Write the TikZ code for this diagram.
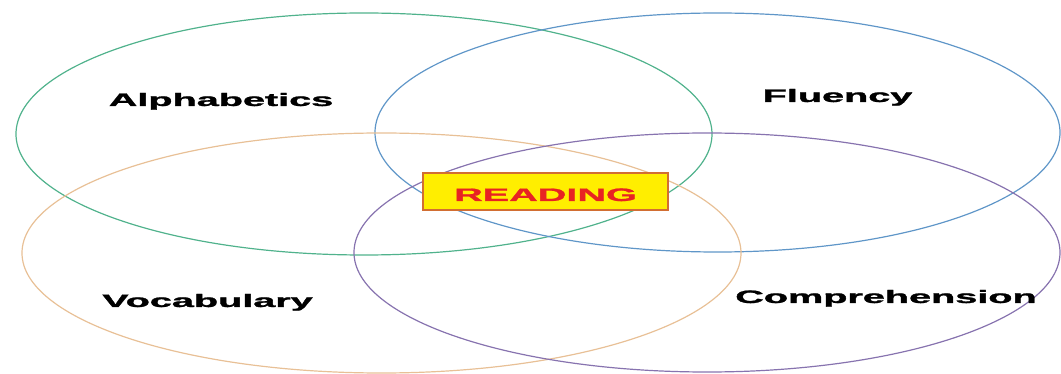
\documentclass[tikz,border=0pt]{standalone}
\usepackage{fontspec}
\setmainfont{Liberation Sans}
\newfontfamily\heavyfont{Liberation Sans Bold}[FakeBold=1.2]
\usepackage{graphicx}
\definecolor{cgreen}{RGB}{80,178,140}
\definecolor{cblue}{RGB}{95,150,200}
\definecolor{corange}{RGB}{232,192,150}
\definecolor{cpurple}{RGB}{135,115,175}
\definecolor{boxfill}{RGB}{255,238,0}
\definecolor{boxdraw}{RGB}{210,110,50}
\definecolor{redtext}{RGB}{232,35,35}
\tikzset{
  ring/.style={line width=1.2pt},
  lbl/.style={anchor=base, inner sep=0pt, font=\heavyfont\fontsize{18}{18}\selectfont},
  centerbox/.style={draw=boxdraw, line width=1.4pt, fill=boxfill, inner sep=0pt,
    minimum width=245pt, minimum height=37pt, text height=19pt, text depth=0pt,
    text=redtext, font=\heavyfont\fontsize{18}{18}\selectfont}
}
\newcommand{\wide}[1]{\scalebox{2.2}[1]{#1}}
\begin{document}
\begin{tikzpicture}[x=1pt,y=-1pt]
\useasboundingbox (0,0) rectangle (1061,374);
\draw[ring, cgreen] (364,134) ellipse [x radius=348, y radius=121];
\draw[ring, cblue] (717.5,132.5) ellipse [x radius=342.5, y radius=119.5];
\draw[ring, corange] (381.5,253) ellipse [x radius=359.5, y radius=120];
\draw[ring, cpurple] (707,252.5) ellipse [x radius=353, y radius=119.5];
\node[lbl] (alpha) at (221,106) {\wide{Alphabetics}};
\node[lbl] (flu) at (837.5,102) {\wide{Fluency}};
\node[lbl] (voc) at (207.5,307) {\wide{Vocabulary}};
\node[lbl] (comp) at (886,303) {\wide{Comprehension}};
\node[centerbox] (reading) at (545.5,191.5) {\wide{READING}};
\end{tikzpicture}
\end{document}
